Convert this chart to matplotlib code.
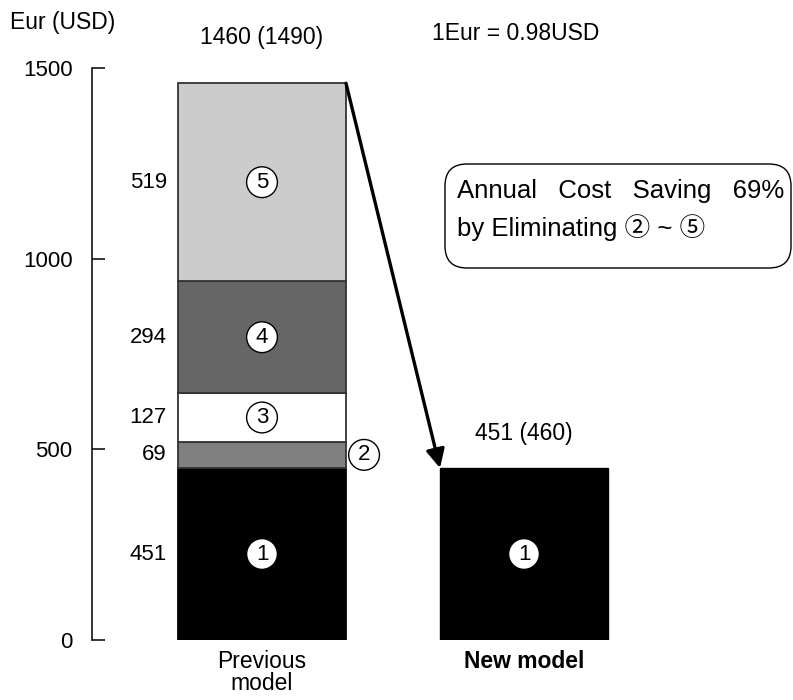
import matplotlib
matplotlib.use('Agg')
import matplotlib.pyplot as plt
import matplotlib.patches as mpatches
from matplotlib.transforms import IdentityTransform

plt.rcParams['font.family'] = ['Liberation Sans', 'Noto Sans CJK JP', 'DejaVu Sans']

# 데이터
models = ['Previous\nmodel', 'New model']
prev_parts = [451, 69, 127, 294, 519]       # ① ~ ⑤
part_marks = ['1', '2', '3', '4', '5']
part_colors = ['#000000', '#808080', '#ffffff', '#666666', '#cccccc']
new_value = 451
prev_total_label = '1460 (1490)'
new_total_label = '451 (460)'
y_ticks = [0, 500, 1000, 1500]

fig = plt.figure(figsize=(7.93, 7), dpi=100)
ax = fig.add_axes([92 / 793, 60 / 700, 701 / 793, 572 / 700])

bar_w = 168 / 262
x_prev, x_new = 0, 1

# 이전 모델 누적 막대
bottom = 0
mids = []
for val, col in zip(prev_parts, part_colors):
    ec = col if col == '#000000' else '#333333'
    ax.bar(x_prev, val, bottom=bottom, width=bar_w, color=col,
           edgecolor=ec, linewidth=1.3, zorder=2)
    mids.append(bottom + val / 2)
    bottom += val
prev_total = bottom

# 신모델 막대
ax.bar(x_new, new_value, width=bar_w, color='black', edgecolor='black', zorder=2)

# 구간 값 (막대 왼쪽)
for val, mid in zip(prev_parts, mids):
    ax.annotate(str(val), xy=(x_prev - bar_w / 2, mid), xytext=(-8, 0),
                textcoords='offset points', ha='right', va='center', fontsize=16)

# 원 번호
circ = dict(boxstyle='circle,pad=0.22', fc='white', ec='black', lw=1.0)
for mark, mid in zip(part_marks, mids):
    if mark == '2':
        ax.annotate(mark, xy=(x_prev + bar_w / 2, mid), xytext=(13, 0),
                    textcoords='offset points', ha='center', va='center',
                    fontsize=16, bbox=circ, zorder=4)
    else:
        ax.text(x_prev, mid, mark, ha='center', va='center', fontsize=16,
                bbox=circ, zorder=4)
ax.text(x_new, new_value / 2, '1', ha='center', va='center', fontsize=16,
        bbox=circ, zorder=4)

# 합계 라벨
ax.annotate(prev_total_label, xy=(x_prev, prev_total), xytext=(0, 33),
            textcoords='offset points', ha='center', va='center', fontsize=16.5)
ax.annotate(new_total_label, xy=(x_new, new_value), xytext=(0, 25),
            textcoords='offset points', ha='center', va='center', fontsize=16.5)

# 화살표
ax.annotate('', xy=(x_new - bar_w / 2, new_value),
            xytext=(x_prev + bar_w / 2, prev_total),
            arrowprops=dict(arrowstyle='-|>', lw=2.4, color='black',
                            mutation_scale=28, shrinkA=0, shrinkB=0),
            zorder=5)

# 축 설정
ax.set_xlim(-(262 - 92) / 262, (793 - 262) / 262)
ax.set_ylim(0, 1500)
ax.set_yticks(y_ticks)
ax.set_xticks([x_prev, x_new])
ax.set_xticklabels(models, fontsize=16.5, linespacing=0.95)
ax.get_xticklabels()[1].set_fontweight('bold')
ax.tick_params(axis='x', length=0, pad=7)
ax.tick_params(axis='y', direction='in', length=9.5, width=1.1, pad=14,
               labelsize=16)
for s in ['top', 'right', 'bottom']:
    ax.spines[s].set_visible(False)
ax.spines['left'].set_linewidth(1.1)

# 상단 텍스트
fig.text(10 / 793, 1 - 22 / 700, 'Eur (USD)', ha='left', va='center', fontsize=16.5)
fig.text(432 / 793, 1 - 33 / 700, '1Eur = 0.98USD', ha='left', va='center', fontsize=16.5)

# 둥근 상자
box = mpatches.FancyBboxPatch((445, 700 - 268), 346, 104,
                              boxstyle='round,pad=0,rounding_size=22',
                              transform=IdentityTransform(), fc='white',
                              ec='black', lw=1.0)
fig.patches.append(box)
fig.text(457 / 793, 1 - 191 / 700, 'Annual   Cost   Saving   69%', ha='left',
         va='center', fontsize=18.5)
fig.text(457 / 793, 1 - 228 / 700, 'by Eliminating ② ~ ⑤', ha='left',
         va='center', fontsize=18.5)

fig.savefig('out.png', dpi=100)
